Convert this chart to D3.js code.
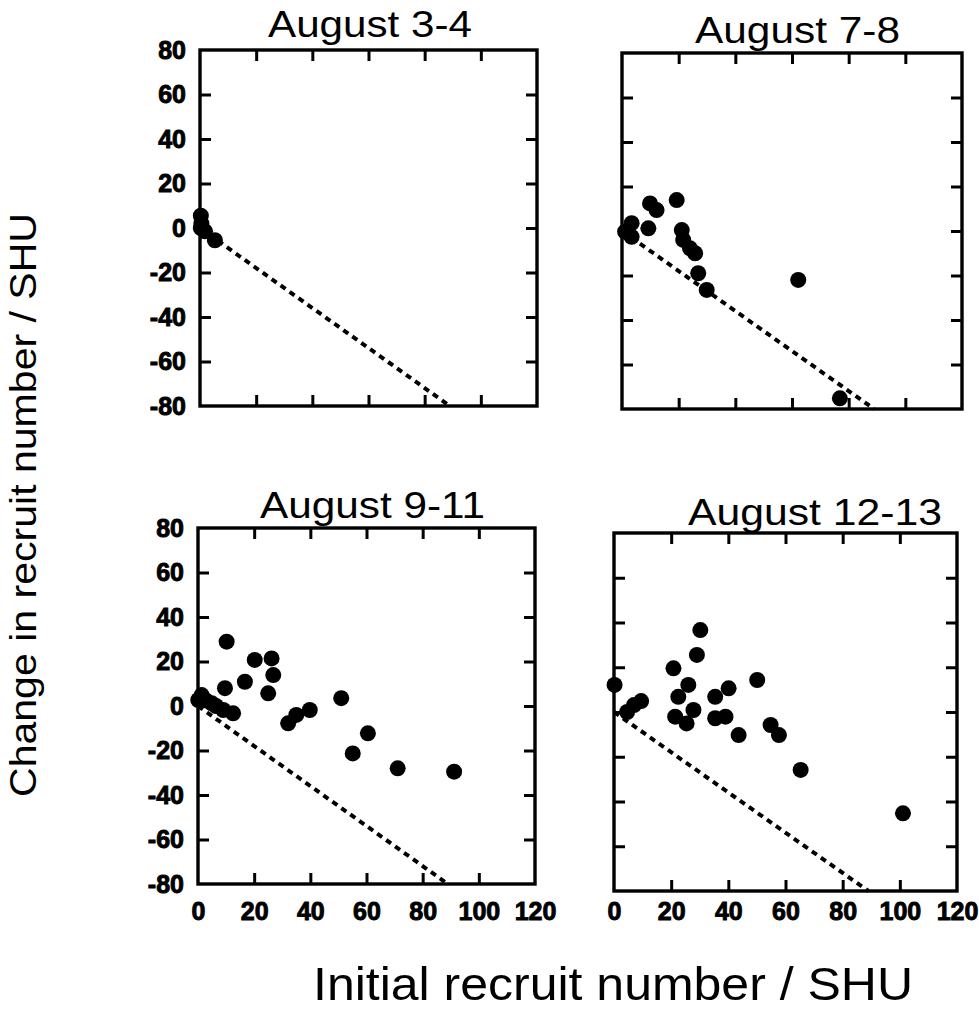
<!DOCTYPE html>
<html>
<head>
<meta charset="utf-8">
<script src="https://cdn.jsdelivr.net/npm/d3@7"></script>
<style>
  body { margin: 0; background: #fff; }
  svg { display: block; }
  text { font-family: "Liberation Sans", Arial, Helvetica, sans-serif; fill: #000; }
</style>
</head>
<body>
<svg id="chart" width="979" height="1015"></svg>
<script>
// Sampling periods, one panel each
const panelTitles = ["August 3-4", "August 7-8", "August 9-11", "August 12-13"];

// [initial recruit number, change in recruit number] per SHU
const aug3to4 = [[0.3, 5.5], [0.5, 2], [0.3, 0], [1.8, -1.5], [5.3, -5.5]];
const aug7to8 = [
  [1.1, -0.3], [3.4, 3.5], [3.4, -2.6], [9.3, 1.2], [9.9, 12.4], [12.2, 9.4],
  [19.3, 13.9], [21.1, 0.4], [21.6, -4.0], [24.0, -7.8], [25.8, -10.0],
  [26.9, -19.0], [29.9, -26.5], [62.2, -22.0], [76.9, -75.2]
];
const aug9to11 = [
  [0.1, 2.7], [1.3, 4.9], [2.8, 2.5], [4.9, 1.2], [6.4, 0], [9.0, -1.8], [12.5, -3.3],
  [10.2, 28.9], [9.6, 8.0], [16.7, 10.9], [20.2, 20.7], [26.2, 21.4], [26.8, 13.9],
  [25.0, 5.7], [32.1, -7.8], [35.0, -4.0], [39.8, -1.8], [51.0, 3.5], [60.5, -12.3],
  [55.1, -21.3], [71.1, -28.0], [91.2, -29.5]
];
const aug12to13 = [
  [0.2, 12.1], [4.6, 0], [7.0, 3.1], [9.5, 4.9], [20.8, 19.5], [30.2, 36.6],
  [29.0, 25.5], [26.0, 12.1], [22.5, 6.8], [27.8, 0.9], [21.4, -2.1], [25.4, -5.1],
  [35.4, 6.8], [40.1, 10.6], [35.4, -2.8], [39.0, -2.1], [43.6, -10.3], [50.1, 14.3],
  [54.8, -5.8], [57.7, -10.3], [65.3, -25.9], [101.1, -45.3]
];
const panelData = [aug3to4, aug7to8, aug9to11, aug12to13];

// Reference line: loss of all initial recruits
const lossLine = [[0, 0], [89, -80]];

const xDomain = [0, 120];
const yDomain = [-80, 80];
const xTickValues = [0, 20, 40, 60, 80, 100, 120];
const yTickValues = [-80, -60, -40, -20, 0, 20, 40, 60, 80];

const yAxisTitle = "Change in recruit number / SHU";
const xAxisTitle = "Initial recruit number / SHU";

// Panel placement on the page
const layout = [
  { left: 200, right: 537, top: 50,  bottom: 406, tx: 268, ty: 37,  tw: 204, showY: true,  showX: false },
  { left: 622, right: 962, top: 53,  bottom: 409, tx: 695, ty: 43,  tw: 205, showY: false, showX: false },
  { left: 198, right: 535, top: 528, bottom: 884, tx: 260, ty: 518, tw: 225, showY: true,  showX: true },
  { left: 614, right: 957, top: 533, bottom: 891, tx: 688, ty: 525, tw: 254, showY: false, showX: true }
];

const svg = d3.select("#chart");
const TICK = 11;
const plainNumber = d => String(d);   // ASCII hyphen for negatives

function styleTicks(sel) {
  sel.select(".domain").remove();
  sel.selectAll(".tick line").attr("stroke", "#000").attr("stroke-width", 3);
}

function styleLabels(sel) {
  sel.select(".domain").remove();
  sel.selectAll("text")
    .attr("font-size", 25).attr("font-weight", "bold")
    .attr("fill", "#000").attr("stroke", "#000").attr("stroke-width", 0.9)
    .style("font-family", "'Liberation Sans', Arial, sans-serif");
}

layout.forEach((L, i) => {
  const x = d3.scaleLinear().domain(xDomain).range([L.left, L.right]);
  const y = d3.scaleLinear().domain(yDomain).range([L.bottom, L.top]);
  const g = svg.append("g").attr("class", "panel");

  // inward ticks on all four sides
  const innerX = xTickValues.slice(1, -1);
  const innerY = yTickValues.slice(1, -1);
  g.append("g").attr("transform", `translate(0,${L.bottom})`)
    .call(d3.axisBottom(x).tickValues(innerX).tickSize(-TICK).tickFormat(""))
    .call(styleTicks);
  g.append("g").attr("transform", `translate(0,${L.top})`)
    .call(d3.axisTop(x).tickValues(innerX).tickSize(-TICK).tickFormat(""))
    .call(styleTicks);
  g.append("g").attr("transform", `translate(${L.left},0)`)
    .call(d3.axisLeft(y).tickValues(innerY).tickSize(-TICK).tickFormat(""))
    .call(styleTicks);
  g.append("g").attr("transform", `translate(${L.right},0)`)
    .call(d3.axisRight(y).tickValues(innerY).tickSize(-TICK).tickFormat(""))
    .call(styleTicks);

  // frame
  g.append("rect")
    .attr("x", L.left).attr("y", L.top)
    .attr("width", L.right - L.left).attr("height", L.bottom - L.top)
    .attr("fill", "none").attr("stroke", "#000").attr("stroke-width", 3.4);

  // tick labels
  if (L.showY) {
    g.append("g").attr("transform", `translate(${L.left},0)`)
      .call(d3.axisLeft(y).tickValues(yTickValues).tickSize(0).tickPadding(14).tickFormat(plainNumber))
      .call(styleLabels);
  }
  if (L.showX) {
    g.append("g").attr("transform", `translate(0,902)`)
      .call(d3.axisBottom(x).tickValues(xTickValues).tickSize(0).tickPadding(0).tickFormat(plainNumber))
      .call(styleLabels);
  }

  // dashed reference line
  const line = d3.line().x(d => x(d[0])).y(d => y(d[1]));
  g.append("path").datum(lossLine)
    .attr("d", line)
    .attr("fill", "none").attr("stroke", "#000")
    .attr("stroke-width", 4).attr("stroke-dasharray", "6,5");

  // observations
  g.selectAll("circle.obs").data(panelData[i]).enter().append("circle")
    .attr("class", "obs")
    .attr("cx", d => x(d[0])).attr("cy", d => y(d[1]))
    .attr("r", 8).attr("fill", "#000");

  // panel title
  g.append("text")
    .attr("x", L.tx).attr("y", L.ty)
    .attr("font-size", 37)
    .attr("textLength", L.tw).attr("lengthAdjust", "spacingAndGlyphs")
    .text(panelTitles[i]);
});

// shared axis titles
svg.append("text")
  .attr("transform", "translate(36,505) rotate(-90)")
  .attr("text-anchor", "middle")
  .attr("font-size", 37)
  .attr("textLength", 584).attr("lengthAdjust", "spacingAndGlyphs")
  .text(yAxisTitle);

svg.append("text")
  .attr("x", 613).attr("y", 1000)
  .attr("text-anchor", "middle")
  .attr("font-size", 47)
  .attr("textLength", 600).attr("lengthAdjust", "spacingAndGlyphs")
  .text(xAxisTitle);
</script>
</body>
</html>
